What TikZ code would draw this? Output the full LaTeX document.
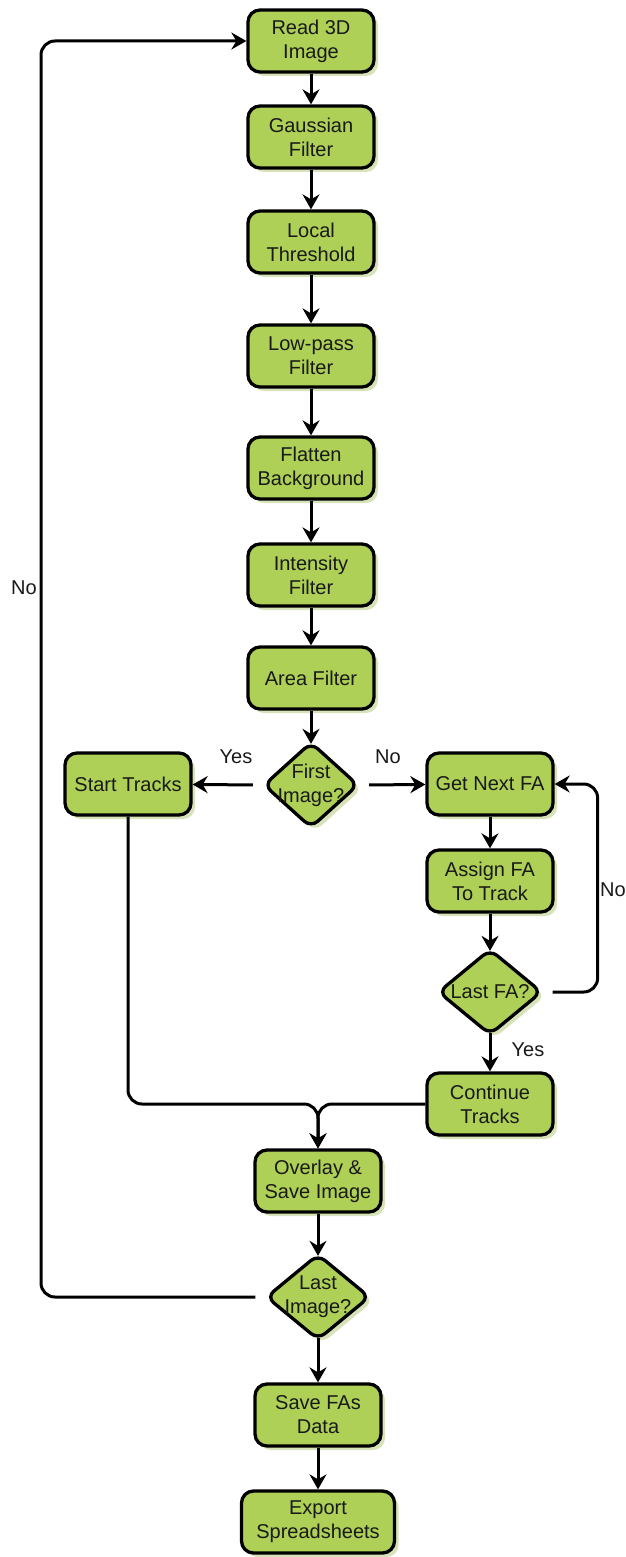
\documentclass[tikz,border=0pt]{standalone}
\usepackage{fontspec}
\setmainfont{Liberation Sans}
\usetikzlibrary{arrows.meta,shapes.geometric,shadows}

\begin{document}
\begin{tikzpicture}[
x=1pt, y=-1pt,
line width=3pt,
every node/.style={font=\fontsize{20}{24}\selectfont, text=black!90},
stepbox/.style={draw=black, line width=3.3pt, fill=boxgreen, rounded corners=12pt,
  minimum width=126pt, minimum height=62pt, inner xsep=5pt, align=center,
  drop shadow={shadow xshift=4pt, shadow yshift=-4pt, fill=shadegreen, opacity=1}},
decision/.style={diamond, draw=black, line width=3.3pt, fill=boxgreen, rounded corners=9pt,
  inner sep=0pt, minimum width=104pt, minimum height=86pt,
  drop shadow={shadow xshift=4pt, shadow yshift=-4pt, fill=shadegreen, opacity=1}},
arr/.style={-{Stealth[length=15pt,width=17pt,inset=5pt]}}
]
\definecolor{boxgreen}{RGB}{174,208,86}
\definecolor{shadegreen}{RGB}{214,227,184}

\useasboundingbox (0,0) rectangle (626,1557);

\node[stepbox] (read) at (311,41) {Read 3D\\Image};
\node[stepbox] (gauss) at (311,137) {Gaussian\\Filter};
\node[stepbox] (local) at (311,242) {Local\\Threshold};
\node[stepbox] (lowpass) at (311,356) {Low-pass\\Filter};
\node[stepbox] (flatten) at (311,468) {Flatten\\Background};
\node[stepbox] (intens) at (311,575) {Intensity\\Filter};
\node[stepbox] (area) at (311,678) {Area Filter};
\node[decision, minimum width=95pt, label={[align=center]center:First\\Image?}] (first) at (311,785) {};
\node[stepbox] (start) at (128,784) {Start Tracks};
\node[stepbox] (getnext) at (490,784) {Get Next FA};
\node[stepbox] (assign) at (490,881) {Assign FA\\To Track};
\node[decision, label=center:Last FA?] (lastfa) at (490,992) {};
\node[stepbox] (cont) at (490,1104) {Continue\\Tracks};
\coordinate (merge) at (318,1104);
\node[stepbox] (overlay) at (318,1181) {Overlay \&\\Save Image};
\node[decision, label={[align=center]center:Last\\Image?}] (lastimg) at (318,1297) {};
\node[stepbox] (savefa) at (318,1415) {Save FAs\\Data};
\node[stepbox, minimum width=153pt] (export) at (318,1522) {Export\\Spreadsheets};
\coordinate (back) at (41,1297);

\foreach \a/\b in {read/gauss, gauss/local, local/lowpass, lowpass/flatten, flatten/intens,
  intens/area, getnext/assign, savefa/export}
  \draw[arr] (\a) -- (\b);
\foreach \a/\b in {area/first, assign/lastfa, overlay/lastimg}
  \draw[arr, shorten >=-3.5pt] (\a) -- (\b);
\foreach \a/\b in {lastfa/cont, lastimg/savefa}
  \draw[arr, shorten <=-3.5pt] (\a) -- (\b);

\draw[arr, shorten <=9pt] (first.west) -- (start);
\draw[arr, shorten <=9pt] (first.east) -- (getnext);
\draw[arr, shorten <=9pt, rounded corners=14pt] (lastfa.east) -- ++(54,0) |- (getnext.east);
\draw[arr, rounded corners=14pt] (start.south) |- (merge) -- (overlay.north);
\draw[arr, rounded corners=14pt] (cont.west) -| (overlay.north);
\draw[arr, shorten <=9pt, rounded corners=14pt] (lastimg.west) -- (back) |- (read.west);

\node (yesfirst) at (236,757) {Yes};
\node (nofirst) at (388,757) {No};
\node (nolastfa) at (613,890) {No};
\node (yeslastfa) at (528,1050) {Yes};
\node (nolastimg) at (24,588) {No};
\end{tikzpicture}
\end{document}
